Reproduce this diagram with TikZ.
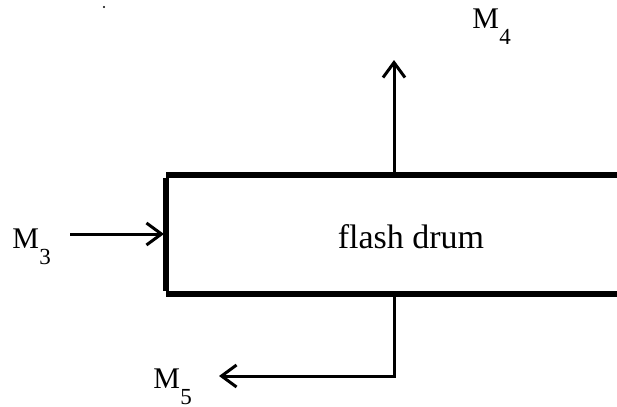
\documentclass[tikz,border=0pt]{standalone}
\usepackage{fontspec}
\setmainfont{Liberation Serif}
\usetikzlibrary{arrows.meta}
\newcommand{\Msub}[1]{M\kern0.2pt\raisebox{-8pt}{\fontsize{11.5}{12}\selectfont #1}}
\tikzset{
  flow/.style={line width=1.5pt, -{Straight Barb[length=7.5pt,width=11pt,line width=1.5pt]}},
  wall/.style={line width=2.6pt, line cap=butt},
  lbl/.style={anchor=base west, inner sep=0pt, font=\fontsize{15}{18}\selectfont},
}
\begin{document}
\begin{tikzpicture}[x=0.5pt,y=-0.5pt]
\useasboundingbox (0,0) rectangle (617,407);
% drum walls
\coordinate (tr) at (617,175);
\coordinate (tl) at (166,175);
\coordinate (bl) at (166,294);
\coordinate (br) at (617,294);
\draw[wall] (tr) -- (tl);
\draw[wall] (bl) -- (br);
\draw[line width=3pt] ([yshift=-1.3pt]tl) -- ([yshift=1.3pt]bl);
\node[inner sep=0pt, anchor=base, font=\fontsize{17}{20}\selectfont] (drum) at (411,248) {flash drum};
% connection points
\coordinate (inlet) at (164,234);
\coordinate (top) at (394,175);
\coordinate (bot) at (394,294);
\coordinate (vapend) at (394,60);
\coordinate (liqcorner) at (394,376);
\coordinate (liqend) at (219,376);
\coordinate (feedstart) at (70,234);
% labels
\node[lbl] (m3) at (12,248) {\Msub{3}};
\node[lbl] (m4) at (472,28) {\Msub{4}};
\node[lbl] (m5) at (153,388) {\Msub{5}};
% streams
\draw[flow] (feedstart) -- (inlet);
\draw[flow] (top) -- (vapend);
\draw[flow] (bot) -- (liqcorner) -- (liqend);
% speck
\fill (104,7) circle (1.2);
\end{tikzpicture}
\end{document}
